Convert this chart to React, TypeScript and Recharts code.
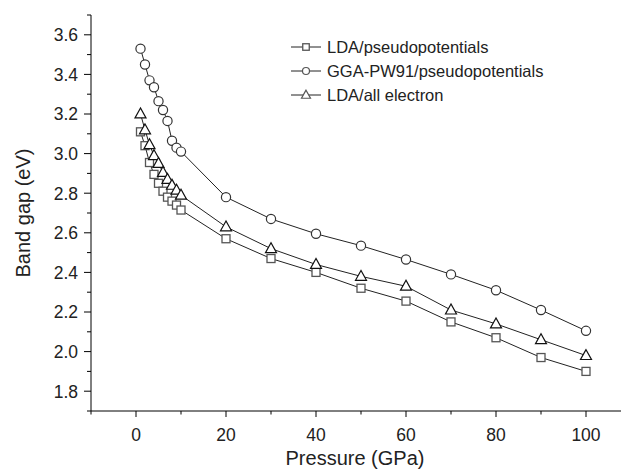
import React from 'react';
import { LineChart, Line, XAxis, YAxis, Legend } from 'recharts';

const pressures = [1, 2, 3, 4, 5, 6, 7, 8, 9, 10, 20, 30, 40, 50, 60, 70, 80, 90, 100];
const ldaPseudo = [3.11, 3.04, 2.955, 2.895, 2.85, 2.81, 2.78, 2.76, 2.74, 2.715, 2.57, 2.47, 2.4, 2.32, 2.255, 2.15, 2.07, 1.97, 1.9];
const ggaPseudo = [3.53, 3.45, 3.37, 3.335, 3.265, 3.22, 3.165, 3.065, 3.03, 3.01, 2.78, 2.67, 2.595, 2.535, 2.465, 2.39, 2.31, 2.21, 2.105];
const ldaAllElectron = [3.2, 3.12, 3.045, 2.99, 2.95, 2.905, 2.87, 2.84, 2.815, 2.79, 2.63, 2.52, 2.44, 2.38, 2.33, 2.21, 2.14, 2.06, 1.98];

const xTicks = [-10, 0, 10, 20, 30, 40, 50, 60, 70, 80, 90, 100, 110];
const yTicks = [1.7, 1.8, 1.9, 2.0, 2.1, 2.2, 2.3, 2.4, 2.5, 2.6, 2.7, 2.8, 2.9, 3.0, 3.1, 3.2, 3.3, 3.4, 3.5, 3.6, 3.7];
const seriesNames = ['LDA/pseudopotentials', 'GGA-PW91/pseudopotentials', 'LDA/all electron'];
const xTitle = 'Pressure (GPa)';
const yTitle = 'Band gap (eV)';

const data = pressures.map((p, i) => ({
  p,
  lda: ldaPseudo[i],
  gga: ggaPseudo[i],
  all: ldaAllElectron[i],
}));

const FONT = '"Liberation Sans", Arial, Helvetica, sans-serif';
const INK = '#222';

const XTick = (props: any) => {
  const { x, y, payload } = props;
  const v = payload.value;
  const major = Math.round(v) % 20 === 0;
  return (
    <g>
      <line x1={x} x2={x} y1={y} y2={y + (major ? 6 : 3.5)} stroke="#000" strokeWidth={1} />
      {major && (
        <text x={x} y={y + 29.5} textAnchor="middle" fontSize={17.5} fontFamily={FONT} fill={INK}>
          {v}
        </text>
      )}
    </g>
  );
};

const YTick = (props: any) => {
  const { x, y, payload } = props;
  const v = payload.value;
  const major = Math.round(v * 10) % 2 === 0;
  return (
    <g>
      <line x1={x} x2={x - (major ? 7 : 4)} y1={y} y2={y} stroke="#000" strokeWidth={1} />
      {major && (
        <text x={x - 13} y={y + 6.3} textAnchor="end" fontSize={17.5} fontFamily={FONT} fill={INK}>
          {v.toFixed(1)}
        </text>
      )}
    </g>
  );
};

const YLabel = (props: any) => {
  const vb = props.viewBox || { y: 15, height: 396 };
  const cy = vb.y + vb.height / 2;
  return (
    <text x={23} y={cy} transform={`rotate(-90, 23, ${cy})`} textAnchor="middle" dominantBaseline="central" fontSize={20} fontFamily={FONT} fill={INK}>
      {yTitle}
    </text>
  );
};

const XLabel = () => (
  <text x={355} y={465} textAnchor="middle" fontSize={20} fontFamily={FONT} fill={INK}>
    {xTitle}
  </text>
);

const squareShape = (cx: number, cy: number, s: number, stroke: string, key?: string) => (
  <rect key={key} x={cx - s / 2} y={cy - s / 2} width={s} height={s} fill="#fff" stroke={stroke} strokeWidth={1.3} />
);
const circleShape = (cx: number, cy: number, r: number, stroke: string, key?: string) => (
  <circle key={key} cx={cx} cy={cy} r={r} fill="#fff" stroke={stroke} strokeWidth={1.2} />
);
const triangleShape = (cx: number, cy: number, w: number, stroke: string, key?: string) => {
  const h = w * 0.9;
  const pts = `${cx},${cy - h * 0.6} ${cx - w / 2},${cy + h * 0.4} ${cx + w / 2},${cy + h * 0.4}`;
  return <polygon key={key} points={pts} fill="#fff" stroke={stroke} strokeWidth={1.2} strokeLinejoin="miter" />;
};

const SquareDot = (props: any) => squareShape(props.cx, props.cy, 8, '#555', `sq-${props.index}`);
const CircleDot = (props: any) => circleShape(props.cx, props.cy, 4.6, '#333', `ci-${props.index}`);
const TriangleDot = (props: any) => triangleShape(props.cx, props.cy, 11, '#111', `tr-${props.index}`);

const legendMarkers = [
  () => squareShape(15, 12, 6.5, '#555'),
  () => circleShape(15, 12, 3.5, '#555'),
  () => triangleShape(15, 12, 9, '#555'),
];

const LegendContent = () => (
  <div style={{ fontFamily: FONT, fontSize: 16.5, color: INK, lineHeight: '24px' }}>
    {seriesNames.map((n, i) => (
      <div key={n} style={{ display: 'flex', alignItems: 'center', whiteSpace: 'nowrap', height: 24 }}>
        <svg width={30} height={24} style={{ display: 'block' }}>
          <line x1={0} x2={30} y1={12} y2={12} stroke={INK} strokeWidth={1} />
          {legendMarkers[i]()}
        </svg>
        <span style={{ marginLeft: 6 }}>{n}</span>
      </div>
    ))}
  </div>
);

export default function App() {
  return (
    <div style={{ position: 'absolute', left: 0, top: 0, width: 621, height: 470, overflow: 'hidden', background: '#fff' }}>
      <LineChart width={648} height={470} data={data} margin={{ top: 15, right: 17, bottom: 0, left: 0 }}>
        <XAxis
          xAxisId="bottom"
          dataKey="p"
          type="number"
          domain={[-10, 110]}
          ticks={xTicks}
          interval={0}
          tick={<XTick />}
          tickLine={false}
          tickSize={0}
          tickMargin={0}
          height={59}
          axisLine={{ stroke: '#000', strokeWidth: 1 }}
          label={<XLabel />}
        />
        <XAxis
          xAxisId="top"
          orientation="top"
          dataKey="p"
          type="number"
          domain={[-10, 110]}
          height={0}
          tick={false}
          tickLine={false}
          axisLine={{ stroke: '#000', strokeWidth: 1 }}
        />
        <YAxis
          type="number"
          domain={[1.7, 3.7]}
          ticks={yTicks}
          interval={0}
          tick={<YTick />}
          tickLine={false}
          tickSize={0}
          tickMargin={0}
          width={91}
          axisLine={{ stroke: '#000', strokeWidth: 1 }}
          label={<YLabel />}
        />
        <Legend
          layout="horizontal"
          verticalAlign="middle"
          align="center"
          content={<LegendContent />}
          wrapperStyle={{ left: 291, top: 35, width: 'auto' }}
        />
        <Line xAxisId="bottom" dataKey="lda" name={seriesNames[0]} stroke={INK} strokeWidth={1} dot={SquareDot} activeDot={false} isAnimationActive={false} />
        <Line xAxisId="bottom" dataKey="gga" name={seriesNames[1]} stroke={INK} strokeWidth={1} dot={CircleDot} activeDot={false} isAnimationActive={false} />
        <Line xAxisId="bottom" dataKey="all" name={seriesNames[2]} stroke={INK} strokeWidth={1} dot={TriangleDot} activeDot={false} isAnimationActive={false} />
      </LineChart>
    </div>
  );
}
